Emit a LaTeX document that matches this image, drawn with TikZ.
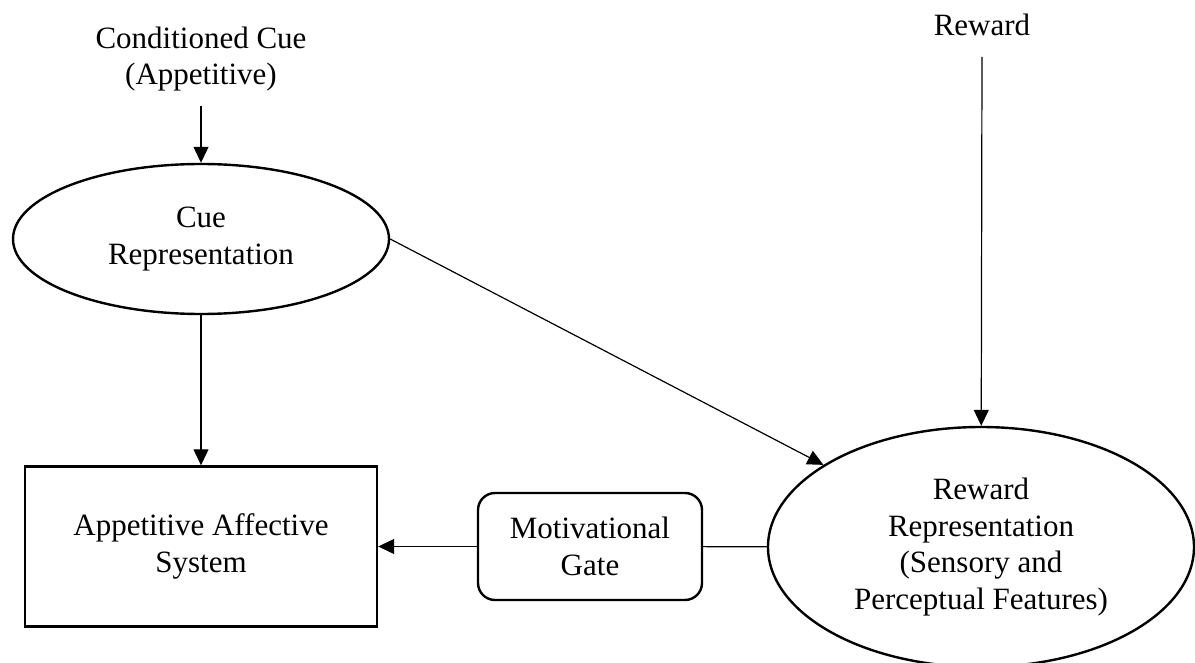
\documentclass[tikz,border=0pt]{standalone}
\usepackage{fontspec}
\setmainfont{Liberation Serif}
\usetikzlibrary{arrows.meta,shapes.geometric}
\begin{document}
\begin{tikzpicture}[x=1pt,y=-1pt,
  every node/.style={font=\fontsize{31}{36.5}\selectfont, align=center},
  shapeline/.style={draw=black, line width=2.4pt},
  oval/.style={shapeline, ellipse, inner sep=0pt},
  label/.style={inner xsep=0pt},
  arr/.style={line width=1.2pt, -{Triangle[length=16pt,width=15pt]}},
  link/.style={line width=1.2pt}]
  \useasboundingbox (0,0) rectangle (1195,663);

  % source labels
  \node[label, inner ysep=14pt] (cc) at (201,59) {Conditioned Cue\\(Appetitive)};
  \node[label, inner ysep=0pt, text depth=0pt] (rw) at (982,25) {Reward};
  \coordinate (rwout) at (982,57);

  % representations
  \node[oval, minimum width=376pt, minimum height=150pt] (cue) at (201,239) {Cue\\Representation};
  \node[oval, minimum width=426pt, minimum height=240pt] (rew) at (981,547)
    {Reward\\Representation\\(Sensory and\\Perceptual Features)};

  % affective system and gate
  \node[shapeline, rectangle, inner sep=0pt, minimum width=352pt, minimum height=160pt] (app) at (201,546.5)
    {Appetitive Affective\\System};
  \node[shapeline, rectangle, rounded corners=17pt, inner sep=0pt, minimum width=224pt, minimum height=107pt] (gate) at (590,546.5)
    {Motivational\\Gate};

  % connectors
  \draw[arr] (cc) -- (cue);
  \draw[arr] (rwout) -- (rew);
  \draw[arr] (cue) -- (app);
  \draw[arr] (cue.east) -- (rew);
  \draw[arr] (gate) -- (app);
  \draw[link] (gate) -- (rew);
\end{tikzpicture}
\end{document}
